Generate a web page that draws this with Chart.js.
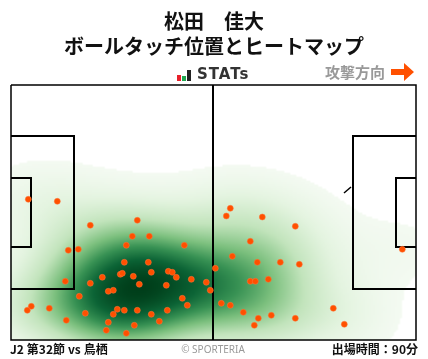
<!DOCTYPE html>
<html lang="ja">
<head>
<meta charset="UTF-8">
<title>松田 佳大 ボールタッチ位置とヒートマップ</title>
<script src="https://cdn.jsdelivr.net/npm/chart.js"></script>
<style>
    html, body { margin: 0; padding: 0; background: #fff; }
    body { width: 428px; height: 359px; position: relative; overflow: hidden; font-family: "Noto Sans CJK JP", sans-serif; }
    canvas { position: absolute; left: 0; top: 0; }
    .txt { position: absolute; white-space: nowrap; color: #111; font-weight: 700; }
    #t1, #t2 { left: 0; width: 428px; text-align: center; font-size: 20px; line-height: 24px; }
    #t1 { top: 9px; }
    #t2 { top: 34px; }
    #logo { left: 177px; top: 70px; width: 14px; height: 11px; }
    #logo i { position: absolute; bottom: 0; width: 4px; }
    #stats { left: 197px; top: 64px; font: 700 15px/20px "DejaVu Sans", sans-serif; color: #333; letter-spacing: 1px; }
    #dir { left: 325px; top: 61px; font-size: 15px; line-height: 22px; color: #999; }
    #arrow { position: absolute; left: 391px; top: 63px; }
    #foot1 { left: 10px; top: 340px; font-size: 12px; line-height: 18px; letter-spacing: .05px; }
    #foot2 { left: 0; width: 426px; text-align: center; top: 341px; font: 400 10px/16px "Noto Sans", sans-serif; color: #999; }
    #foot3 { right: 10px; top: 340px; font-size: 12px; line-height: 18px; }
</style>
</head>
<body>
<canvas id="pitch" width="428" height="359"></canvas>
<div class="txt" id="t1">松田　佳大</div>
<div class="txt" id="t2">ボールタッチ位置とヒートマップ</div>
<div class="txt" id="logo"><i style="left:0;height:6px;background:#e8202a"></i><i style="left:5px;height:5px;background:#1fa84f"></i><i style="left:10px;height:11px;background:#222"></i></div>
<div class="txt" id="stats">STATs</div>
<div class="txt" id="dir">攻撃方向</div>
<svg id="arrow" width="24" height="18"><path d="M0 6H13V0L23 9L13 18V12H0Z" fill="#ff5000"/></svg>
<div class="txt" id="foot1">J2 第32節 vs 鳥栖</div>
<div class="txt" id="foot2">© SPORTERIA</div>
<div class="txt" id="foot3">出場時間：90分</div>

<script>
    // pitch is measured in picture units: 405 wide, 255 tall, y going down
    const touchX = [126.3, 79.3, 121.3, 138.3, 115.3, 173.3, 57.3, 67.3, 113.3, 137.3, 109.3, 111.3, 91.3, 122.3, 140.3, 157.3, 161.3, 165.3, 180.3, 195.3, 199.3, 54.3, 79.3, 128.3, 155.3, 97.3, 102.3, 68.3, 171.3, 176.3, 20.3, 16.3, 38.3, 106.3, 102.3, 113.3, 126.3, 140.3, 156.3, 74.3, 55.3, 97.3, 148.3, 123.3, 95.3, 115.3, 17.3, 46.3, 219.3, 215.3, 251.3, 284.3, 239.3, 221.3, 246.3, 269.3, 288.3, 204.3, 257.3, 239.3, 244.3, 210.3, 219.3, 232.3, 247.3, 260.3, 284.3, 243.3, 322.3, 333.3, 391.3];
    const touchY = [135.3, 140.3, 151.3, 151.3, 160.3, 160.3, 165.3, 164.3, 177.3, 177.3, 189.3, 188.3, 192.3, 191.3, 187.3, 186.3, 187.3, 192.3, 194.3, 197.3, 205.3, 196.3, 198.3, 199.3, 200.3, 206.3, 205.3, 211.3, 213.3, 220.3, 221.3, 225.3, 223.3, 224.3, 229.3, 225.3, 225.3, 229.3, 225.3, 228.3, 235.3, 237.3, 236.3, 240.3, 245.3, 248.3, 114.3, 116.3, 123.3, 131, 132, 141.3, 156.3, 171.3, 177.3, 177.3, 179.3, 183.3, 194.3, 196.3, 196.3, 218.3, 220.3, 227.3, 233.3, 230.3, 233.3, 240.3, 223.3, 239.3, 164.3];

    const pitchW = 405;
    const pitchH = 255;
    const outline = [[0, 0], [pitchW, 0], [pitchW, pitchH], [0, pitchH], [0, 0]];
    const halfway = [[202, 0], [202, pitchH]];
    const boxLeft = [[0, 51], [63, 51], [63, 204], [0, 204]];
    const goalLeft = [[0, 93], [20, 93], [20, 162], [0, 162]];
    const boxRight = [[pitchW, 51], [342, 51], [342, 204], [pitchW, 204]];
    const goalRight = [[pitchW, 93], [385, 93], [385, 162], [pitchW, 162]];
    const arcBit = [[333, 108], [340, 102]];

    // white -> pale green -> dark green
    const heatStops = [
        [0.00, [255, 255, 255]], [0.035, [244, 250, 242]], [0.15, [228, 244, 224]],
        [0.32, [194, 228, 188]], [0.50, [124, 192, 126]], [0.66, [56, 146, 84]],
        [0.82, [12, 100, 54]], [1.00, [0, 62, 26]]
    ];
    const bandX = 42;
    const bandY = 28;

    function heatColor(v) {
        for (let i = 1; i < heatStops.length; i++) {
            if (v <= heatStops[i][0]) {
                const a = heatStops[i - 1], b = heatStops[i];
                const t = (v - a[0]) / (b[0] - a[0]);
                return a[1].map((c, k) => c + (b[1][k] - c) * t);
            }
        }
        return heatStops[heatStops.length - 1][1];
    }

    // density of the touches, painted under the datasets
    const heatPlugin = {
        id: 'heat',
        beforeDatasetsDraw(chart) {
            const { ctx, chartArea: area, scales } = chart;
            const w = Math.round(area.width / 2), h = Math.round(area.height / 2);
            const off = document.createElement('canvas');
            off.width = w; off.height = h;
            const octx = off.getContext('2d');
            const img = octx.createImageData(w, h);
            const grid = new Float32Array(w * h);
            let max = 0;
            for (let j = 0; j < h; j++) {
                const gy = scales.y.getValueForPixel(area.top + (j + 0.5) * 2);
                for (let i = 0; i < w; i++) {
                    const gx = scales.x.getValueForPixel(area.left + (i + 0.5) * 2);
                    let s = 0;
                    for (let k = 0; k < touchX.length; k++) {
                        const dx = (gx - touchX[k]) / bandX, dy = (gy - touchY[k]) / bandY;
                        s += Math.exp(-0.5 * (dx * dx + dy * dy));
                    }
                    grid[j * w + i] = s;
                    if (s > max) max = s;
                }
            }
            for (let n = 0; n < grid.length; n++) {
                const v = grid[n] / max;
                const c = heatColor(v);
                img.data[n * 4] = c[0];
                img.data[n * 4 + 1] = c[1];
                img.data[n * 4 + 2] = c[2];
                img.data[n * 4 + 3] = v < 0.035 ? 0 : 255;
            }
            octx.putImageData(img, 0, 0);
            ctx.save();
            ctx.imageSmoothingEnabled = true;
            ctx.drawImage(off, area.left, area.top, area.width, area.height);
            ctx.restore();
        }
    };

    function lineSet(points, width) {
        return {
            type: 'scatter',
            data: points.map(p => ({ x: p[0], y: p[1] })),
            showLine: true,
            borderColor: '#000',
            borderWidth: width,
            pointRadius: 0,
            fill: false,
            clip: false
        };
    }

    new Chart(document.getElementById('pitch').getContext('2d'), {
        type: 'scatter',
        data: {
            datasets: [
                {
                    data: touchX.map((x, i) => ({ x: x, y: touchY[i] })),
                    backgroundColor: '#ff5000',
                    borderColor: 'rgba(255, 120, 60, 0.5)',
                    borderWidth: 1,
                    pointRadius: 3,
                    clip: false
                },
                lineSet(outline, 1.5),
                lineSet(halfway, 2),
                lineSet(boxLeft, 2),
                lineSet(goalLeft, 2),
                lineSet(boxRight, 2),
                lineSet(goalRight, 2),
                lineSet(arcBit, 1.5)
            ]
        },
        options: {
            responsive: false,
            animation: false,
            layout: { padding: { left: 11, right: 12, top: 85, bottom: 19 } },
            plugins: { legend: { display: false }, tooltip: { enabled: false } },
            scales: {
                x: { display: false, min: 0, max: pitchW },
                y: { display: false, min: 0, max: pitchH, reverse: true }
            }
        },
        plugins: [heatPlugin]
    });
</script>
</body>
</html>
